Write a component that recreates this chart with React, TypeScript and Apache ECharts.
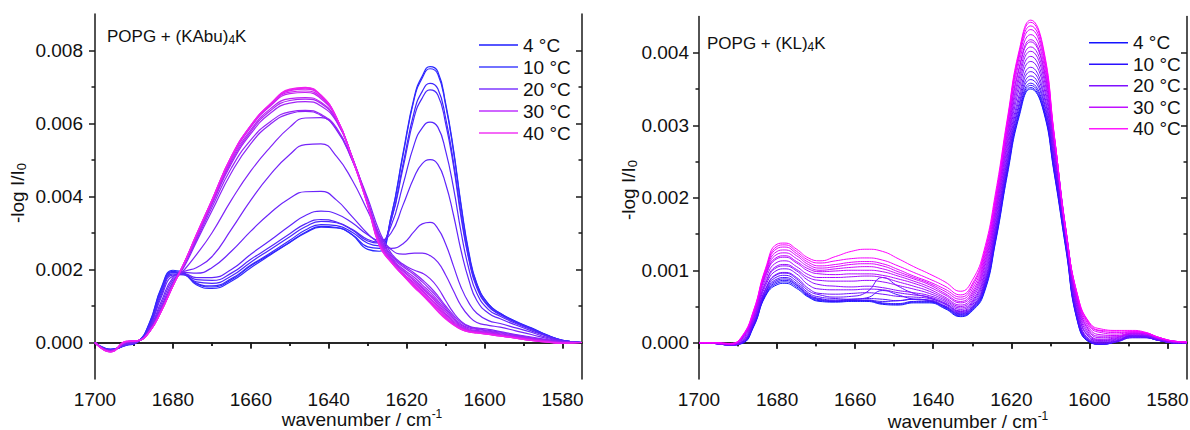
import React, { useEffect, useRef } from "react";
import * as echarts from "echarts";

// ---------- DATA (absorbance in units of 10^-3, labels show -log I/I0) ----------
const TEMPS = [4, 6, 8, 10, 12, 14, 16, 18, 20, 22, 24, 26, 28, 30, 32, 34, 36, 38, 40];
const LEGEND_TEMPS = [4, 10, 20, 30, 40];

const X_MAJOR = [1700, 1680, 1660, 1640, 1620, 1600, 1580];
const X_MINOR = [1690, 1670, 1650, 1630, 1610, 1590];
const KABU_Y_MAJOR = [0, 2, 4, 6, 8];
const KABU_Y_MINOR = [1, 3, 5, 7];
const KL_Y_MAJOR = [0, 1, 2, 3, 4];
const KL_Y_MINOR = [0.5, 1.5, 2.5, 3.5];

// Left panel: POPG + (KAbu)4K
const KABU_WN = [1700, 1696, 1692, 1689, 1686, 1683, 1680, 1677, 1674, 1670, 1665, 1660, 1655, 1650, 1646, 1642, 1638, 1634, 1630, 1627, 1624, 1621, 1618, 1616, 1614, 1612, 1610, 1608, 1606, 1604, 1602, 1599, 1596, 1592, 1588, 1584, 1580, 1575];
const KABU_04 = [0.00, -0.18, -0.08, 0.02, 0.55, 1.5, 1.98, 1.9, 1.62, 1.52, 1.72, 2.1, 2.42, 2.75, 3.02, 3.18, 3.15, 2.95, 2.55, 2.5, 3.45, 5.15, 6.75, 7.3, 7.56, 7.42, 6.55, 5.3, 3.75, 2.45, 1.62, 1.05, 0.8, 0.58, 0.4, 0.21, 0.06, 0.0];
const KABU_06 = [0.00, -0.2, -0.07, 0.02, 0.53, 1.47, 1.95, 1.88, 1.58, 1.48, 1.68, 2.05, 2.4, 2.74, 3.0, 3.16, 3.14, 2.96, 2.62, 2.58, 3.45, 5.1, 6.7, 7.25, 7.5, 7.35, 6.5, 5.25, 3.7, 2.4, 1.6, 1.05, 0.8, 0.57, 0.39, 0.2, 0.06, 0.0];
const KABU_08 = [0.00, -0.19, -0.06, 0.03, 0.5, 1.42, 1.92, 1.86, 1.62, 1.55, 1.75, 2.12, 2.45, 2.8, 3.08, 3.23, 3.2, 3.02, 2.72, 2.65, 3.35, 4.85, 6.35, 6.88, 7.1, 6.95, 6.15, 4.95, 3.5, 2.3, 1.55, 1.0, 0.78, 0.56, 0.38, 0.2, 0.06, 0.0];
const KABU_10 = [0.00, -0.2, -0.07, 0.02, 0.47, 1.36, 1.88, 1.85, 1.66, 1.62, 1.82, 2.2, 2.55, 2.9, 3.17, 3.32, 3.28, 3.08, 2.78, 2.72, 3.35, 4.75, 6.2, 6.7, 6.92, 6.78, 6.0, 4.85, 3.4, 2.25, 1.5, 0.98, 0.76, 0.55, 0.37, 0.19, 0.05, 0.0];
const KABU_12 = [0.00, -0.2, -0.06, 0.02, 0.44, 1.3, 1.85, 1.86, 1.72, 1.7, 1.9, 2.28, 2.62, 2.98, 3.25, 3.37, 3.3, 3.1, 2.82, 2.75, 3.2, 4.3, 5.45, 5.88, 6.04, 5.9, 5.25, 4.25, 3.0, 2.0, 1.35, 0.9, 0.72, 0.52, 0.35, 0.18, 0.05, 0.0];
const KABU_14 = [0.00, -0.21, -0.06, 0.02, 0.41, 1.24, 1.82, 1.88, 1.78, 1.78, 2.0, 2.42, 2.8, 3.2, 3.48, 3.6, 3.52, 3.28, 2.95, 2.8, 3.0, 3.75, 4.55, 4.9, 5.01, 4.88, 4.35, 3.5, 2.5, 1.7, 1.15, 0.8, 0.65, 0.48, 0.32, 0.17, 0.05, 0.0];
const KABU_16 = [0.00, -0.21, -0.05, 0.02, 0.38, 1.12, 1.78, 1.92, 1.9, 2.05, 2.5, 3.05, 3.55, 3.95, 4.13, 4.14, 3.9, 3.45, 2.98, 2.72, 2.58, 2.7, 3.05, 3.25, 3.29, 3.12, 2.7, 2.1, 1.5, 1.08, 0.8, 0.6, 0.52, 0.4, 0.28, 0.14, 0.04, 0.0];
const KABU_18 = [0.00, -0.22, -0.04, 0.03, 0.36, 1.05, 1.72, 1.95, 2.05, 2.35, 3.1, 3.9, 4.6, 5.15, 5.42, 5.44, 5.1, 4.45, 3.6, 2.95, 2.55, 2.42, 2.45, 2.45, 2.38, 2.2, 1.85, 1.42, 1.0, 0.72, 0.55, 0.47, 0.42, 0.32, 0.22, 0.11, 0.03, 0.0];
const KABU_20 = [0.00, -0.22, -0.02, 0.04, 0.34, 0.98, 1.66, 2.0, 2.4, 3.0, 3.9, 4.7, 5.35, 5.9, 6.15, 6.16, 5.82, 5.0, 3.95, 3.05, 2.45, 2.15, 1.98, 1.9, 1.75, 1.5, 1.15, 0.82, 0.58, 0.45, 0.4, 0.36, 0.3, 0.22, 0.15, 0.08, 0.02, 0.0];
const KABU_22 = [0.00, -0.23, 0.0, 0.04, 0.33, 0.93, 1.6, 2.1, 2.75, 3.6, 4.65, 5.45, 5.98, 6.27, 6.33, 6.22, 5.85, 5.0, 3.85, 2.95, 2.4, 2.12, 1.9, 1.72, 1.52, 1.28, 1.0, 0.75, 0.55, 0.43, 0.38, 0.33, 0.28, 0.2, 0.13, 0.07, 0.02, 0.0];
const KABU_24 = [0.00, -0.23, 0.0, 0.04, 0.32, 0.92, 1.6, 2.15, 2.8, 3.7, 4.78, 5.55, 6.05, 6.32, 6.36, 6.25, 5.88, 5.02, 3.85, 2.92, 2.36, 2.08, 1.85, 1.66, 1.45, 1.22, 0.95, 0.7, 0.5, 0.4, 0.36, 0.31, 0.26, 0.19, 0.12, 0.06, 0.01, 0.0];
const KABU_26 = [0.00, -0.24, 0.01, 0.05, 0.31, 0.9, 1.58, 2.18, 2.85, 3.78, 4.9, 5.72, 6.28, 6.56, 6.6, 6.48, 6.05, 5.08, 3.85, 2.85, 2.32, 2.02, 1.78, 1.58, 1.38, 1.15, 0.9, 0.66, 0.47, 0.37, 0.33, 0.29, 0.24, 0.17, 0.11, 0.05, 0.0, 0.0];
const KABU_28 = [0.00, -0.24, 0.01, 0.05, 0.31, 0.89, 1.57, 2.18, 2.87, 3.8, 4.95, 5.78, 6.35, 6.63, 6.67, 6.55, 6.08, 5.08, 3.83, 2.8, 2.3, 1.98, 1.72, 1.52, 1.32, 1.1, 0.85, 0.62, 0.44, 0.35, 0.31, 0.27, 0.22, 0.16, 0.1, 0.04, 0.0, 0.0];
const KABU_30 = [0.00, -0.24, 0.02, 0.05, 0.3, 0.88, 1.56, 2.19, 2.9, 3.83, 5.0, 5.83, 6.4, 6.68, 6.71, 6.58, 6.1, 5.08, 3.82, 2.76, 2.27, 1.95, 1.68, 1.48, 1.28, 1.05, 0.8, 0.58, 0.42, 0.33, 0.3, 0.26, 0.21, 0.15, 0.09, 0.04, 0.0, 0.0];
const KABU_32 = [0.00, -0.25, 0.02, 0.05, 0.3, 0.87, 1.56, 2.2, 2.92, 3.86, 5.05, 5.9, 6.48, 6.82, 6.85, 6.68, 6.14, 5.08, 3.8, 2.72, 2.24, 1.9, 1.63, 1.43, 1.22, 1.0, 0.76, 0.55, 0.4, 0.32, 0.29, 0.25, 0.2, 0.14, 0.08, 0.03, -0.01, 0.0];
const KABU_34 = [0.00, -0.25, 0.02, 0.05, 0.3, 0.86, 1.55, 2.2, 2.93, 3.88, 5.07, 5.92, 6.5, 6.86, 6.89, 6.72, 6.15, 5.07, 3.78, 2.7, 2.22, 1.88, 1.6, 1.4, 1.18, 0.96, 0.72, 0.52, 0.38, 0.31, 0.28, 0.24, 0.19, 0.13, 0.07, 0.02, -0.01, 0.0];
const KABU_36 = [0.00, -0.25, 0.03, 0.05, 0.3, 0.86, 1.55, 2.21, 2.94, 3.9, 5.09, 5.94, 6.52, 6.9, 6.94, 6.76, 6.16, 5.06, 3.77, 2.68, 2.21, 1.86, 1.56, 1.36, 1.14, 0.92, 0.69, 0.5, 0.37, 0.3, 0.27, 0.23, 0.18, 0.12, 0.06, 0.02, -0.02, 0.0];
const KABU_38 = [0.00, -0.26, 0.03, 0.05, 0.3, 0.85, 1.55, 2.21, 2.95, 3.9, 5.1, 5.95, 6.53, 6.92, 6.97, 6.77, 6.16, 5.05, 3.76, 2.66, 2.2, 1.85, 1.53, 1.33, 1.11, 0.88, 0.66, 0.49, 0.36, 0.29, 0.26, 0.22, 0.18, 0.12, 0.06, 0.01, -0.02, 0.0];
const KABU_40 = [0.00, -0.26, 0.03, 0.05, 0.3, 0.85, 1.55, 2.2, 2.95, 3.9, 5.1, 5.95, 6.54, 6.94, 6.99, 6.78, 6.16, 5.05, 3.75, 2.65, 2.2, 1.85, 1.5, 1.3, 1.08, 0.85, 0.64, 0.48, 0.36, 0.29, 0.26, 0.22, 0.18, 0.12, 0.06, 0.01, -0.02, 0.0];
const KABU_CURVES = [KABU_04, KABU_06, KABU_08, KABU_10, KABU_12, KABU_14, KABU_16, KABU_18, KABU_20, KABU_22, KABU_24, KABU_26, KABU_28, KABU_30, KABU_32, KABU_34, KABU_36, KABU_38, KABU_40];

// Right panel: POPG + (KL)4K
const KL_WN = [1700, 1696, 1692, 1689, 1686, 1683, 1680, 1678, 1675, 1672, 1669, 1665, 1661, 1657, 1653, 1649, 1645, 1641, 1637, 1633, 1630, 1627, 1624, 1621, 1618, 1615, 1612, 1609, 1606, 1603, 1600, 1597, 1593, 1589, 1586, 1582, 1578, 1575];
const KL_04 = [0.00, -0.01, -0.03, -0.01, 0.22, 0.64, 0.8, 0.82, 0.75, 0.63, 0.57, 0.56, 0.57, 0.57, 0.53, 0.52, 0.55, 0.55, 0.47, 0.36, 0.44, 0.68, 1.4, 2.32, 3.12, 3.5, 3.24, 2.33, 1.28, 0.28, 0.01, -0.02, 0.02, 0.09, 0.08, 0.03, 0.0, 0.0];
const KL_06 = [0.00, -0.01, -0.03, -0.01, 0.23, 0.65, 0.82, 0.84, 0.77, 0.64, 0.58, 0.57, 0.58, 0.58, 0.54, 0.53, 0.56, 0.56, 0.48, 0.37, 0.45, 0.7, 1.42, 2.35, 3.15, 3.52, 3.26, 2.35, 1.3, 0.29, 0.01, -0.02, 0.02, 0.1, 0.09, 0.03, 0.0, 0.0];
const KL_08 = [0.00, -0.01, -0.03, 0.0, 0.24, 0.66, 0.84, 0.86, 0.79, 0.65, 0.59, 0.57, 0.58, 0.58, 0.55, 0.54, 0.57, 0.57, 0.49, 0.38, 0.46, 0.72, 1.45, 2.38, 3.18, 3.55, 3.29, 2.38, 1.32, 0.3, 0.02, -0.02, 0.02, 0.09, 0.08, 0.03, 0.0, 0.0];
const KL_10 = [0.00, -0.01, -0.03, 0.0, 0.25, 0.68, 0.86, 0.88, 0.8, 0.66, 0.6, 0.58, 0.59, 0.59, 0.57, 0.58, 0.6, 0.58, 0.5, 0.39, 0.47, 0.74, 1.47, 2.41, 3.21, 3.58, 3.32, 2.4, 1.34, 0.32, 0.02, -0.02, 0.01, 0.07, 0.07, 0.03, 0.0, 0.0];
const KL_12 = [0.00, -0.01, -0.03, 0.0, 0.26, 0.69, 0.88, 0.9, 0.82, 0.67, 0.61, 0.59, 0.6, 0.62, 0.72, 0.66, 0.6, 0.58, 0.5, 0.4, 0.48, 0.76, 1.5, 2.45, 3.26, 3.63, 3.37, 2.44, 1.36, 0.33, 0.02, -0.01, 0.02, 0.1, 0.1, 0.04, 0.0, 0.0];
const KL_14 = [0.00, -0.01, -0.03, 0.0, 0.27, 0.71, 0.91, 0.93, 0.85, 0.69, 0.63, 0.61, 0.6, 0.61, 0.6, 0.58, 0.6, 0.59, 0.51, 0.41, 0.49, 0.78, 1.53, 2.49, 3.3, 3.68, 3.41, 2.47, 1.38, 0.35, 0.03, -0.01, 0.02, 0.07, 0.07, 0.03, 0.0, 0.0];
const KL_16 = [0.00, -0.01, -0.03, 0.01, 0.28, 0.73, 0.94, 0.96, 0.88, 0.72, 0.66, 0.63, 0.64, 0.7, 0.9, 0.78, 0.68, 0.62, 0.53, 0.42, 0.5, 0.8, 1.57, 2.54, 3.36, 3.74, 3.47, 2.52, 1.4, 0.37, 0.04, 0.0, 0.02, 0.08, 0.08, 0.03, 0.0, 0.0];
const KL_18 = [0.00, -0.01, -0.03, 0.01, 0.29, 0.74, 0.95, 0.97, 0.9, 0.75, 0.68, 0.67, 0.68, 0.69, 0.67, 0.64, 0.63, 0.61, 0.54, 0.43, 0.52, 0.83, 1.61, 2.59, 3.42, 3.8, 3.52, 2.56, 1.43, 0.4, 0.05, 0.01, 0.03, 0.09, 0.09, 0.04, 0.0, 0.0];
const KL_20 = [0.00, -0.01, -0.03, 0.02, 0.31, 0.78, 1.0, 1.02, 0.95, 0.8, 0.74, 0.73, 0.73, 0.74, 0.73, 0.69, 0.66, 0.63, 0.55, 0.44, 0.54, 0.87, 1.66, 2.65, 3.5, 3.88, 3.59, 2.62, 1.46, 0.44, 0.07, 0.02, 0.04, 0.1, 0.1, 0.04, 0.0, 0.0];
const KL_22 = [0.00, -0.01, -0.02, 0.03, 0.33, 0.81, 1.04, 1.06, 0.99, 0.86, 0.8, 0.78, 0.77, 0.78, 0.76, 0.72, 0.69, 0.65, 0.57, 0.46, 0.56, 0.91, 1.71, 2.71, 3.57, 3.95, 3.65, 2.66, 1.48, 0.47, 0.08, 0.03, 0.05, 0.11, 0.1, 0.05, 0.01, 0.0];
const KL_24 = [0.00, -0.01, -0.02, 0.04, 0.34, 0.83, 1.06, 1.08, 1.01, 0.9, 0.86, 0.85, 0.85, 0.86, 0.84, 0.79, 0.74, 0.68, 0.59, 0.48, 0.58, 0.95, 1.76, 2.77, 3.64, 4.02, 3.72, 2.7, 1.5, 0.5, 0.1, 0.04, 0.06, 0.12, 0.11, 0.05, 0.01, 0.0];
const KL_26 = [0.00, -0.01, -0.02, 0.05, 0.36, 0.87, 1.11, 1.13, 1.05, 0.94, 0.9, 0.9, 0.91, 0.92, 0.9, 0.84, 0.78, 0.71, 0.61, 0.5, 0.61, 1.0, 1.8, 2.82, 3.7, 4.08, 3.78, 2.74, 1.52, 0.53, 0.12, 0.05, 0.07, 0.12, 0.12, 0.05, 0.01, 0.0];
const KL_28 = [0.00, -0.01, -0.02, 0.06, 0.38, 0.91, 1.16, 1.18, 1.1, 0.99, 0.95, 0.94, 0.95, 0.95, 0.93, 0.88, 0.82, 0.74, 0.63, 0.52, 0.64, 1.04, 1.85, 2.88, 3.77, 4.15, 3.84, 2.78, 1.54, 0.56, 0.15, 0.07, 0.08, 0.13, 0.12, 0.06, 0.01, 0.0];
const KL_30 = [0.00, 0.0, -0.02, 0.07, 0.39, 0.93, 1.18, 1.2, 1.12, 1.02, 0.98, 0.99, 1.0, 1.0, 0.98, 0.92, 0.85, 0.77, 0.66, 0.55, 0.67, 1.08, 1.88, 2.91, 3.8, 4.18, 3.87, 2.8, 1.55, 0.58, 0.17, 0.09, 0.09, 0.13, 0.13, 0.06, 0.01, 0.0];
const KL_32 = [0.00, 0.0, -0.02, 0.07, 0.41, 0.95, 1.22, 1.24, 1.16, 1.05, 1.0, 1.02, 1.04, 1.05, 1.02, 0.95, 0.88, 0.8, 0.68, 0.57, 0.7, 1.12, 1.93, 2.97, 3.87, 4.25, 3.93, 2.83, 1.56, 0.6, 0.2, 0.11, 0.1, 0.14, 0.13, 0.06, 0.02, 0.01];
const KL_34 = [0.00, 0.0, -0.02, 0.08, 0.42, 0.97, 1.26, 1.28, 1.2, 1.08, 1.03, 1.05, 1.08, 1.09, 1.06, 0.98, 0.9, 0.82, 0.71, 0.6, 0.74, 1.16, 1.97, 3.01, 3.93, 4.32, 3.99, 2.84, 1.55, 0.62, 0.23, 0.14, 0.12, 0.15, 0.14, 0.07, 0.02, 0.01];
const KL_36 = [0.00, 0.0, -0.01, 0.08, 0.43, 0.99, 1.3, 1.32, 1.23, 1.11, 1.06, 1.08, 1.11, 1.12, 1.09, 1.01, 0.92, 0.84, 0.74, 0.63, 0.78, 1.2, 2.0, 3.04, 3.97, 4.37, 4.04, 2.85, 1.54, 0.64, 0.25, 0.16, 0.14, 0.15, 0.14, 0.07, 0.02, 0.01];
const KL_38 = [0.00, 0.0, -0.01, 0.08, 0.44, 1.0, 1.33, 1.35, 1.26, 1.14, 1.1, 1.13, 1.16, 1.17, 1.14, 1.06, 0.97, 0.88, 0.78, 0.66, 0.81, 1.23, 2.03, 3.06, 4.0, 4.42, 4.09, 2.86, 1.53, 0.65, 0.27, 0.17, 0.16, 0.16, 0.14, 0.07, 0.02, 0.01];
const KL_40 = [0.00, 0.0, -0.01, 0.09, 0.45, 1.02, 1.36, 1.375, 1.29, 1.17, 1.13, 1.19, 1.26, 1.29, 1.26, 1.16, 1.05, 0.95, 0.84, 0.71, 0.86, 1.27, 2.08, 3.1, 4.03, 4.45, 4.12, 2.87, 1.5, 0.65, 0.28, 0.19, 0.17, 0.17, 0.15, 0.07, 0.02, 0.01];
const KL_CURVES = [KL_04, KL_06, KL_08, KL_10, KL_12, KL_14, KL_16, KL_18, KL_20, KL_22, KL_24, KL_26, KL_28, KL_30, KL_32, KL_34, KL_36, KL_38, KL_40];

// ---------- STYLE ----------
const FONT = "Arial, 'Liberation Sans', Helvetica, sans-serif";
const INK = "#111";
const AXIS = "#1a1a1a";
const LEFT_LEGEND_COLORS = ["#5656ff", "#7272ff", "#9e6aff", "#cf66ff", "#f46af6"];
const RIGHT_LEGEND_COLORS = ["#1414ff", "#2a10ff", "#7f10ff", "#c010ff", "#ff18ff"];

const leftColor = (t: number) =>
  `rgb(${Math.round(40 + 200 * t)},${Math.round(40 - 8 * t)},${Math.round(255 - 15 * t)})`;
const rightColor = (t: number) =>
  `rgb(${Math.round(25 + 230 * t)},${Math.round(22 - 22 * t)},255)`;

function xAxes(grid: number) {
  const base = { type: "value", gridIndex: grid, min: 1575, max: 1700, inverse: true, splitLine: { show: false } };
  return [
    {
      ...base,
      position: "bottom",
      axisLine: { show: true, lineStyle: { color: AXIS, width: 1.5 } },
      axisTick: { show: true, inside: false, length: 6, customValues: X_MAJOR, lineStyle: { color: AXIS, width: 1.5 } },
      axisLabel: {
        show: true,
        customValues: X_MAJOR,
        margin: 11,
        fontSize: 19,
        color: INK,
        fontFamily: FONT,
        formatter: (v: number) => String(Math.round(v)),
      },
    },
    {
      ...base,
      position: "bottom",
      axisLine: { show: false },
      axisTick: { show: true, inside: false, length: 3.5, customValues: X_MINOR, lineStyle: { color: AXIS, width: 1.5 } },
      axisLabel: { show: false },
    },
    {
      ...base,
      position: "top",
      axisLine: { show: true, lineStyle: { color: AXIS, width: 1.5 } },
      axisTick: { show: true, inside: true, length: 6, customValues: X_MAJOR, lineStyle: { color: AXIS, width: 1.5 } },
      axisLabel: { show: false },
    },
    {
      ...base,
      position: "top",
      axisLine: { show: false },
      axisTick: { show: true, inside: true, length: 3.5, customValues: X_MINOR, lineStyle: { color: AXIS, width: 1.5 } },
      axisLabel: { show: false },
    },
  ];
}

function yAxes(grid: number, min: number, max: number, major: number[], minor: number[], margin: number) {
  const base = { type: "value", gridIndex: grid, min, max, splitLine: { show: false } };
  return [
    {
      ...base,
      position: "left",
      axisLine: { show: true, lineStyle: { color: AXIS, width: 1.5 } },
      axisTick: { show: true, inside: false, length: 6, customValues: major, lineStyle: { color: AXIS, width: 1.5 } },
      axisLabel: {
        show: true,
        customValues: major,
        margin,
        fontSize: 19,
        color: INK,
        fontFamily: FONT,
        formatter: (v: number) => (v / 1000).toFixed(3),
      },
    },
    {
      ...base,
      position: "left",
      axisLine: { show: false },
      axisTick: { show: true, inside: false, length: 3.5, customValues: minor, lineStyle: { color: AXIS, width: 1.5 } },
      axisLabel: { show: false },
    },
    {
      ...base,
      position: "right",
      axisLine: { show: true, lineStyle: { color: AXIS, width: 1.5 } },
      axisTick: { show: true, inside: true, length: 6, customValues: major, lineStyle: { color: AXIS, width: 1.5 } },
      axisLabel: { show: false },
    },
    {
      ...base,
      position: "right",
      axisLine: { show: false },
      axisTick: { show: true, inside: true, length: 3.5, customValues: minor, lineStyle: { color: AXIS, width: 1.5 } },
      axisLabel: { show: false },
    },
  ];
}

function legend(left: number, top: number, colors: string[], lineH: number, thick: number) {
  return {
    orient: "vertical",
    left,
    top,
    icon: "rect",
    itemWidth: 39,
    itemHeight: thick,
    itemGap: 0,
    selectedMode: false,
    textStyle: { fontSize: 19, lineHeight: lineH, color: INK, fontFamily: FONT },
    data: LEGEND_TEMPS.map((t, i) => ({ name: `${t} °C`, itemStyle: { color: colors[i] } })),
  };
}

function richBase(size: number, lh: number) {
  return { fontSize: size, lineHeight: lh, fontFamily: FONT, fill: INK };
}

function yTitle(x: number, y: number) {
  return {
    type: "text",
    x,
    y,
    rotation: Math.PI / 2,
    style: {
      text: "{a|-log I/I}{s|0}",
      align: "center",
      verticalAlign: "middle",
      rich: {
        a: richBase(19, 22),
        s: { ...richBase(13, 8), verticalAlign: "bottom" },
      },
    },
  };
}

function xTitle(x: number, y: number) {
  return {
    type: "text",
    x,
    y,
    style: {
      text: "{a|wavenumber / cm}{p|-1}",
      align: "center",
      verticalAlign: "middle",
      rich: {
        a: richBase(19, 22),
        p: { ...richBase(12, 8), verticalAlign: "top" },
      },
    },
  };
}

function panelTitle(x: number, y: number, head: string) {
  return {
    type: "text",
    x,
    y,
    style: {
      text: `{a|${head}}{s|4}{a|K}`,
      align: "left",
      verticalAlign: "middle",
      rich: {
        a: richBase(17, 20),
        s: { ...richBase(12, 7), verticalAlign: "bottom" },
      },
    },
  };
}

function buildSeries(wn: number[], curves: number[][], axisIdx: number, colorFn: (t: number) => string, width: number) {
  return TEMPS.map((temp, i) => {
    const c = colorFn(i / (TEMPS.length - 1));
    return {
      type: "line",
      name: `${temp} °C`,
      xAxisIndex: axisIdx,
      yAxisIndex: axisIdx,
      data: wn.map((w, j) => [w, curves[i][j]]),
      symbol: "none",
      showSymbol: false,
      smooth: 0.5,
      silent: true,
      lineStyle: { width, color: c },
      itemStyle: { color: c },
      z: 2,
    };
  });
}

export default function App() {
  const ref = useRef<HTMLDivElement>(null);

  useEffect(() => {
    if (!ref.current) return;
    const chart = echarts.init(ref.current, undefined, { renderer: "svg" });
    const option: any = {
      animation: false,
      backgroundColor: "#ffffff",
      grid: [
        { left: 95, top: 14, width: 487, height: 365, containLabel: false, outerBoundsMode: "none" },
        { left: 699, top: 16.5, width: 488, height: 362.5, containLabel: false, outerBoundsMode: "none" },
      ],
      xAxis: [...xAxes(0), ...xAxes(1)],
      yAxis: [
        ...yAxes(0, -1, 9, KABU_Y_MAJOR, KABU_Y_MINOR, 12),
        ...yAxes(1, -0.5, 4.5, KL_Y_MAJOR, KL_Y_MINOR, 10),
      ],
      legend: [legend(474, 29, LEFT_LEGEND_COLORS, 22, 2), legend(1084, 27, RIGHT_LEGEND_COLORS, 21.5, 1.5)],
      graphic: [
        panelTitle(107, 36, "POPG + (KAbu)"),
        panelTitle(707, 43, "POPG + (KL)"),
        yTitle(17, 193),
        yTitle(628, 190),
        xTitle(362, 419),
        xTitle(968, 421),
      ],
      series: [
        ...buildSeries(KABU_WN, KABU_CURVES, 0, leftColor, 1.2),
        ...buildSeries(KL_WN, KL_CURVES, 4, rightColor, 1.0),
      ],
    };
    chart.setOption(option);
    return () => chart.dispose();
  }, []);

  return (
    <div
      ref={ref}
      style={{ position: "absolute", left: 0, top: 0, width: 1190, height: 430, background: "#fff" }}
    />
  );
}
